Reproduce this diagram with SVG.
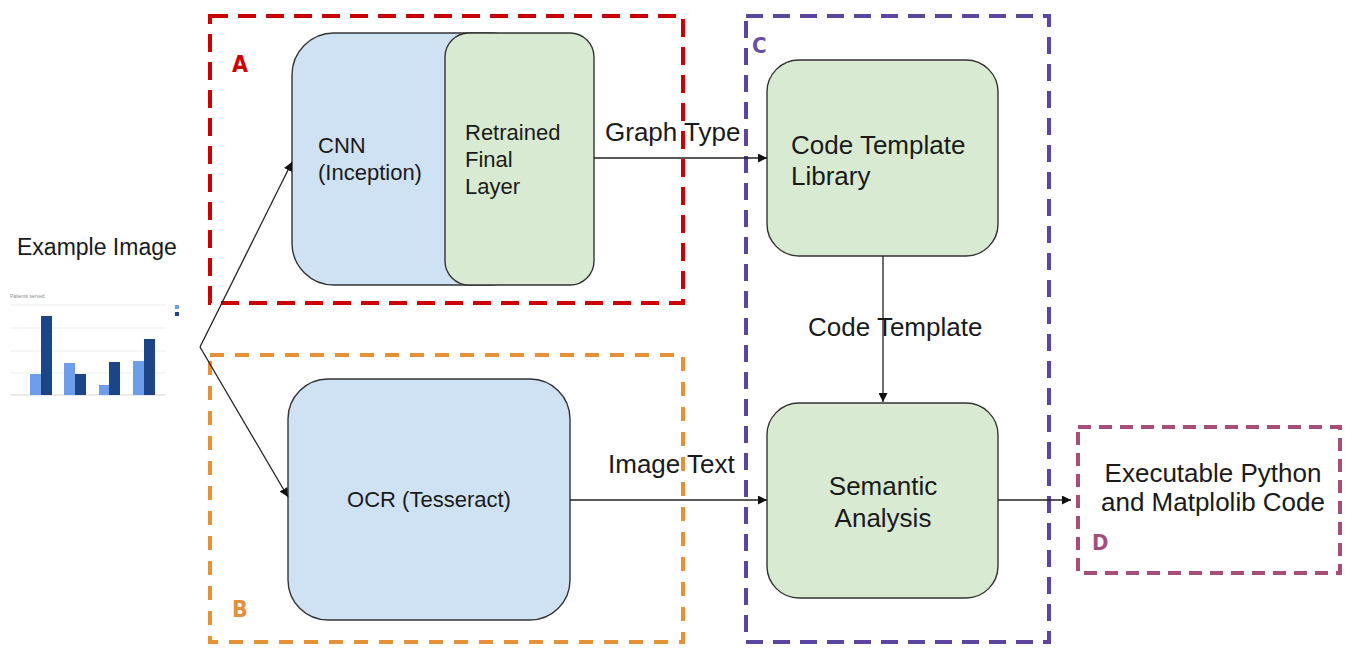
<svg xmlns="http://www.w3.org/2000/svg" width="1345" height="650" viewBox="0 0 1345 650">
<style>
  .t{font-family:"Liberation Sans",Arial,sans-serif;fill:#1a1a1a}
  .lbl{font-family:"DejaVu Sans Condensed","DejaVu Sans",sans-serif;font-weight:bold}
  .box{stroke:#333;stroke-width:1.4}
  .blue{fill:#cfe2f3}
  .green{fill:#d9ead3}
  .grp{fill:none;stroke-width:4}
  .edge{fill:none;stroke:#222;stroke-width:1.3}
  .tiny{font-family:"Liberation Sans",Arial,sans-serif;fill:#888}
</style>
<defs>
  <marker id="ah" viewBox="0 0 10 10" refX="10" refY="5" markerWidth="9" markerHeight="9" markerUnits="userSpaceOnUse" orient="auto">
    <path d="M0,0 L10,5 L0,10 Z" fill="#111"/>
  </marker>
</defs>
<rect width="1345" height="650" fill="#fff"/>

<!-- group boxes -->
<g id="groupA">
  <rect class="grp" x="210" y="16" width="473" height="287" stroke="#cc0000" stroke-dasharray="18 10"/>
  <text class="lbl" x="232" y="72" font-size="23" fill="#cc0000">A</text>
</g>
<g id="groupB">
  <rect class="grp" x="210" y="355" width="473" height="287" stroke="#e69138" stroke-dasharray="14 11"/>
  <text class="lbl" x="232" y="617" font-size="23" fill="#e69138">B</text>
</g>
<g id="groupC">
  <rect class="grp" x="746" y="16" width="303" height="626" stroke="#5b45a0" stroke-dasharray="17 10"/>
  <text class="lbl" x="752" y="53" font-size="22" fill="#674ea7">C</text>
</g>
<g id="groupD">
  <rect class="grp" x="1078" y="427" width="262" height="146" stroke="#a64d79" stroke-dasharray="13 8"/>
  <text class="lbl" x="1092" y="550" font-size="22" fill="#a64d79">D</text>
</g>

<!-- example image -->
<g id="example">
  <text class="t" x="17" y="255" font-size="23">Example Image</text>
  <text class="tiny" x="10" y="298" font-size="5">Patients served</text>
  <g stroke="#e8e8e8" stroke-width="0.8">
    <line x1="10" y1="305" x2="166" y2="305"/>
    <line x1="10" y1="328" x2="166" y2="328"/>
    <line x1="10" y1="351" x2="166" y2="351"/>
    <line x1="10" y1="373" x2="166" y2="373"/>
  </g>
  <line x1="10" y1="395" x2="166" y2="395" stroke="#ccc" stroke-width="0.8"/>
  <g fill="#6d9eeb">
    <rect x="30" y="374" width="11" height="21"/>
    <rect x="64" y="363" width="11" height="32"/>
    <rect x="99" y="385" width="10" height="10"/>
    <rect x="133" y="361" width="11" height="34"/>
    <rect x="175" y="305" width="4" height="4"/>
  </g>
  <g fill="#1c4587">
    <rect x="41" y="316" width="11" height="79"/>
    <rect x="75" y="374" width="11" height="21"/>
    <rect x="109" y="362" width="11" height="33"/>
    <rect x="144" y="339" width="11" height="56"/>
    <rect x="175" y="312" width="4" height="4"/>
  </g>
</g>

<!-- nodes -->
<g id="cnn">
  <rect class="box blue" x="292" y="33" width="240" height="252" rx="42" ry="42"/>
  <text class="t" x="318" y="153" font-size="22">CNN</text>
  <text class="t" x="318" y="180" font-size="22">(Inception)</text>
</g>
<g id="retrained">
  <rect class="box green" x="445" y="33" width="149" height="252" rx="24" ry="24"/>
  <text class="t" x="465" y="140" font-size="22">Retrained</text>
  <text class="t" x="465" y="167" font-size="22">Final</text>
  <text class="t" x="465" y="194" font-size="22">Layer</text>
</g>
<g id="ocr">
  <rect class="box blue" x="288" y="379" width="282" height="241" rx="40" ry="40"/>
  <text class="t" x="429" y="507" font-size="22" text-anchor="middle">OCR (Tesseract)</text>
</g>
<g id="library">
  <rect class="box green" x="767" y="60" width="231" height="196" rx="32" ry="32"/>
  <text class="t" x="791" y="154" font-size="26">Code Template</text>
  <text class="t" x="791" y="185" font-size="26">Library</text>
</g>
<g id="semantic">
  <rect class="box green" x="767" y="403" width="231" height="195" rx="32" ry="32"/>
  <text class="t" x="883" y="495" font-size="26" text-anchor="middle">Semantic</text>
  <text class="t" x="883" y="527" font-size="26" text-anchor="middle">Analysis</text>
</g>
<g id="output">
  <text class="t" x="1213" y="482" font-size="26" text-anchor="middle">Executable Python</text>
  <text class="t" x="1213" y="511" font-size="26" text-anchor="middle">and Matplolib Code</text>
</g>

<!-- connectors -->
<g id="connectors">
  <line class="edge" x1="200" y1="347" x2="292" y2="162" marker-end="url(#ah)"/>
  <line class="edge" x1="200" y1="347" x2="288" y2="497" marker-end="url(#ah)"/>
  <line class="edge" x1="594" y1="158" x2="767" y2="158" marker-end="url(#ah)"/>
  <line class="edge" x1="883" y1="256" x2="883" y2="402" marker-end="url(#ah)"/>
  <line class="edge" x1="570" y1="500" x2="767" y2="500" marker-end="url(#ah)"/>
  <line class="edge" x1="998" y1="500" x2="1071" y2="500" marker-end="url(#ah)"/>
  <text class="t" x="605" y="141" font-size="26">Graph Type</text>
  <text class="t" x="808" y="336" font-size="26">Code Template</text>
  <text class="t" x="608" y="473" font-size="26">Image Text</text>
</g>
</svg>
